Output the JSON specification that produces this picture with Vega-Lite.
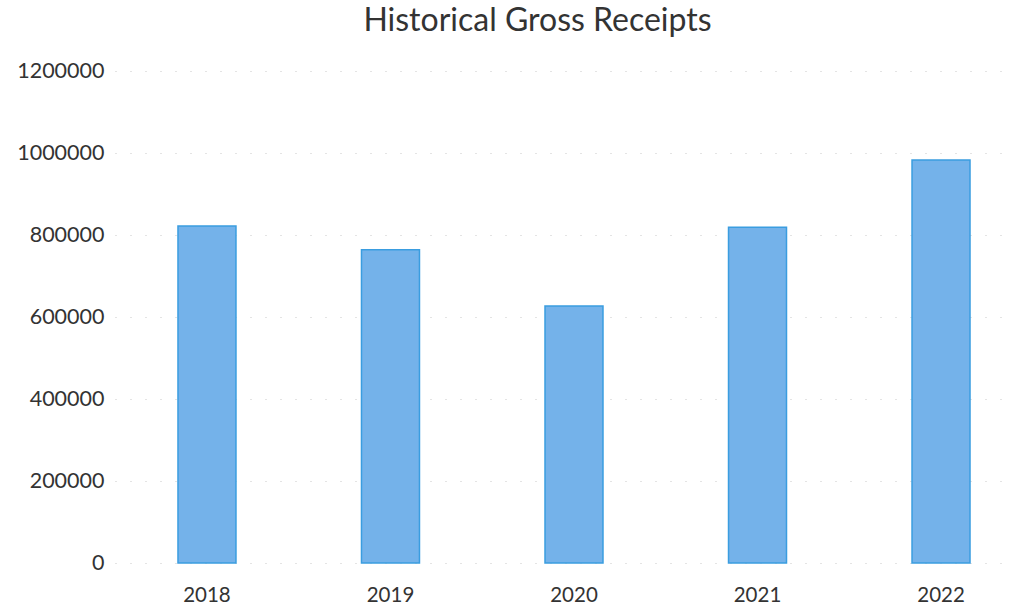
{
  "$schema": "https://vega.github.io/schema/vega-lite/v6.json",
  "autosize": {"type": "none"},
  "padding": {"left": 115, "top": 71, "right": 0, "bottom": 47},
  "width": 897,
  "height": 492,
  "background": "white",
  "title": {
    "text": "Historical Gross Receipts",
    "font": "Lato",
    "fontSize": 32,
    "fontWeight": "normal",
    "color": "#333333",
    "offset": 22,
    "dx": -26
  },
  "data": {
    "values": [
      {"year": "2018", "receipts": 822000},
      {"year": "2019", "receipts": 764000},
      {"year": "2020", "receipts": 627000},
      {"year": "2021", "receipts": 819000},
      {"year": "2022", "receipts": 983000}
    ]
  },
  "mark": {"type": "bar", "fill": "#74b2ea", "stroke": "#3a9de0", "strokeWidth": 1.5},
  "encoding": {
    "x": {
      "field": "year",
      "type": "nominal",
      "scale": {"paddingInner": 0.684, "paddingOuter": 0.286, "align": 0.6},
      "axis": {
        "title": null,
        "labelAngle": 0,
        "labelFont": "Lato",
        "labelFontSize": 20.5,
        "labelColor": "#333333",
        "labelPadding": 22,
        "ticks": false,
        "domain": false
      }
    },
    "y": {
      "field": "receipts",
      "type": "quantitative",
      "scale": {"domain": [0, 1200000], "nice": false},
      "axis": {
        "title": null,
        "values": [0, 200000, 400000, 600000, 800000, 1000000, 1200000],
        "format": "d",
        "labelFont": "Lato",
        "labelFontSize": 21.5,
        "labelColor": "#333333",
        "labelPadding": 11,
        "ticks": false,
        "domain": false,
        "grid": true,
        "gridColor": "#c8c8c8",
        "gridDash": [1, 14],
        "gridWidth": 1
      }
    }
  },
  "config": {"view": {"stroke": null}}
}
